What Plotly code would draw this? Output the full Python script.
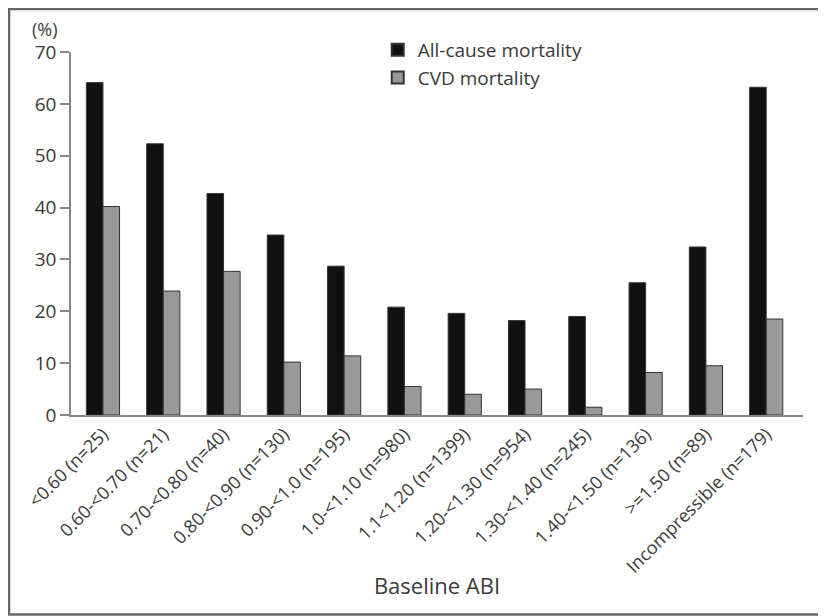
import plotly.graph_objects as go

categories = ["<0.60 (n=25)", "0.60-<0.70 (n=21)", "0.70-<0.80 (n=40)", "0.80-<0.90 (n=130)",
              "0.90-<1.0 (n=195)", "1.0-<1.10 (n=980)", "1.1<1.20 (n=1399)", "1.20-<1.30 (n=954)",
              "1.30-<1.40 (n=245)", "1.40-<1.50 (n=136)", ">=1.50 (n=89)", "Incompressible (n=179)"]
all_cause = [64.1, 52.3, 42.7, 34.7, 28.7, 20.8, 19.6, 18.2, 19.0, 25.5, 32.4, 63.2]
cvd = [40.2, 23.9, 27.7, 10.2, 11.4, 5.5, 4.0, 5.0, 1.5, 8.2, 9.5, 18.5]
y_ticks = [0, 10, 20, 30, 40, 50, 60, 70]

def esc(s):
    return s.replace("&", "&amp;").replace("<", "&lt;").replace(">", "&gt;")

FONT = "Open Sans, Noto Sans, DejaVu Sans, sans-serif"
TXT = "#3a3a3a"

fig = go.Figure()
fig.add_trace(go.Bar(x=list(range(len(categories))), y=all_cause, name="All-cause mortality",
                     marker=dict(color="#111111", line=dict(color="#333333", width=1))))
fig.add_trace(go.Bar(x=list(range(len(categories))), y=cvd, name="CVD mortality",
                     marker=dict(color="#999999", line=dict(color="#333333", width=1))))

fig.update_layout(
    width=818, height=608,
    margin=dict(l=63, r=23, t=44, b=201),
    paper_bgcolor="white", plot_bgcolor="white",
    barmode="group", bargap=0.45, bargroupgap=0,
    font=dict(family=FONT, color=TXT, size=19),
    showlegend=True,
    legend=dict(x=0.419, y=1.058, xanchor="left", yanchor="top",
                bgcolor="rgba(0,0,0,0)", font=dict(size=19, color=TXT),
                itemsizing="constant", tracegroupgap=0),
    xaxis=dict(tickmode="array", tickvals=list(range(len(categories))),
               ticktext=[esc(c) for c in categories], tickangle=-45,
               range=[-0.53, 11.61], showline=True, linecolor="#888888", linewidth=1.5,
               ticks="", showgrid=False, zeroline=False,
               tickfont=dict(size=18, color=TXT),
               title=dict(text="Baseline ABI", font=dict(size=22, color=TXT), standoff=2)),
    yaxis=dict(range=[0, 70], tickvals=y_ticks, showline=True, linecolor="#888888", linewidth=1.5,
               ticks="outside", ticklen=9, tickcolor="#888888", tickwidth=1.5,
               showgrid=False, zeroline=False, tickfont=dict(size=19, color=TXT)),
    annotations=[dict(text="(%)", xref="paper", yref="paper", x=-0.017, y=1.062,
                      xanchor="right", yanchor="middle", showarrow=False, borderpad=0,
                      font=dict(size=18, color=TXT))],
    shapes=[dict(type="rect", xref="paper", yref="paper", x0=-0.0847, x1=1.0266, y0=-0.5496, y1=1.1185,
                 line=dict(color="#666666", width=2.5), layer="below")],
)

fig.write_html("out.html")
